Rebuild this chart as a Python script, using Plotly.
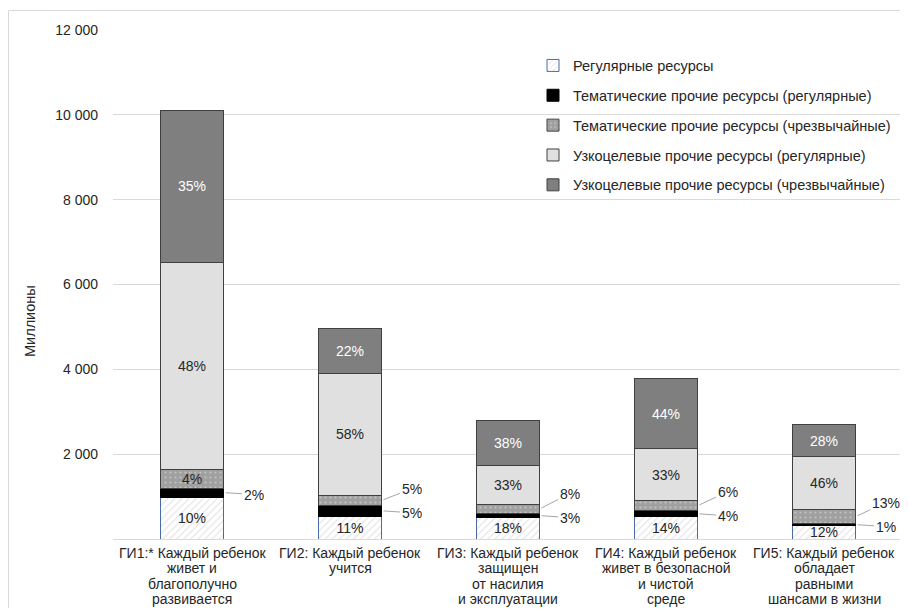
import plotly.graph_objects as go

# ---- data ----
categories = [
    "ГИ1:* Каждый ребенок<br>живет и<br>благополучно<br>развивается",
    "ГИ2: Каждый ребенок<br>учится",
    "ГИ3: Каждый ребенок<br>защищен<br>от насилия<br>и эксплуатации",
    "ГИ4: Каждый ребенок<br>живет в безопасной<br>и чистой<br>среде",
    "ГИ5: Каждый ребенок<br>обладает<br>равными<br>шансами в жизни",
]
series_names = [
    "Регулярные ресурсы",
    "Тематические прочие ресурсы (регулярные)",
    "Тематические прочие ресурсы (чрезвычайные)",
    "Узкоцелевые прочие ресурсы (регулярные)",
    "Узкоцелевые прочие ресурсы (чрезвычайные)",
]
regular = [990, 540, 505, 520, 325]
thematic_regular = [210, 250, 94, 150, 30]
thematic_emergency = [450, 240, 219, 230, 345]
targeted_regular = [4880, 2870, 920, 1230, 1235]
targeted_emergency = [3570, 1070, 1062, 1650, 755]
y_tick_values = [2000, 4000, 6000, 8000, 10000, 12000]
y_title = "Миллионы"

series = [regular, thematic_regular, thematic_emergency, targeted_regular, targeted_emergency]
totals = [sum(s[i] for s in series) for i in range(len(categories))]

def pct(v, t):
    return f"{int(v / t * 100 + 0.5)}%"

# ---- geometry (page has an 8px body margin; figure sized to fit the window) ----
W, H = 892, 600
ML, MR, MT, MB = 105, 0, 22, 69
plot_w = W - ML - MR
plot_h = H - MT - MB
y_max = 12000
px_per_unit = plot_h / y_max
cat_px = 158
x_range = [-0.5, -0.5 + plot_w / cat_px]
bar_width = 0.4
outside_threshold = 420  # thematic segments smaller than this get outside labels

FONT = "Liberation Sans, Arial, sans-serif"
TXT = "#262626"
BORDER = "#404040"
NUM_SIZE = 14
CAT_SIZE = 14
LEG_SIZE = 14.5
CAT_LINE = 15.5

styles = [
    dict(color="white", line=dict(color="#4a6aa8", width=1),
         pattern=dict(shape="/", fgcolor="#bfbfbf", bgcolor="white", size=5, solidity=0.2)),
    dict(color="black", line=dict(color="black", width=1)),
    dict(color="#a0a0a0", line=dict(color=BORDER, width=1),
         pattern=dict(shape=".", fgcolor="#e8e8e8", bgcolor="#a0a0a0", size=5, solidity=0.15)),
    dict(color="#e0e0e0", line=dict(color=BORDER, width=1)),
    dict(color="#7f7f7f", line=dict(color=BORDER, width=1)),
]
text_colors = [TXT, TXT, TXT, TXT, "white"]

fig = go.Figure()
for k, (name, vals) in enumerate(zip(series_names, series)):
    texts = []
    for i, v in enumerate(vals):
        if k in (1, 2) and v < outside_threshold:
            texts.append("")
        else:
            texts.append(pct(v, totals[i]))
    fig.add_trace(go.Bar(
        x=categories, y=vals, name=name, marker=styles[k],
        text=texts, textposition="inside", insidetextanchor="middle",
        textfont=dict(family=FONT, size=NUM_SIZE, color=text_colors[k]),
        width=bar_width, legendgroup=f"g{k}", hoverinfo="skip",
    ))

annotations = []
# category labels (tight line spacing), one text per line under each bar
for i, cat in enumerate(categories):
    for j, line in enumerate(cat.split("<br>")):
        annotations.append(dict(
            x=i, y=0, xref="x", yref="y", yanchor="middle", xanchor="center",
            yshift=-(13.5 + j * CAT_LINE), text=line, showarrow=False,
            font=dict(family=FONT, size=CAT_SIZE, color=TXT)))

# outside labels with leader lines
for i in range(len(categories)):
    base_black = regular[i]
    black_mid = base_black + thematic_regular[i] / 2
    dot_mid = base_black + thematic_regular[i] + thematic_emergency[i] / 2
    black_out = thematic_regular[i] < outside_threshold
    dot_out = thematic_emergency[i] < outside_threshold
    x_edge = i + bar_width / 2
    black_label_dy = 2
    if black_out:
        annotations.append(dict(
            x=x_edge, y=black_mid, xref="x", yref="y", text=pct(thematic_regular[i], totals[i]),
            showarrow=True, arrowhead=0, arrowwidth=1, arrowcolor="#a6a6a6",
            ax=30, ay=black_label_dy, standoff=2,
            font=dict(family=FONT, size=NUM_SIZE, color=TXT)))
    if dot_out:
        black_label_px = -black_mid * px_per_unit + black_label_dy
        dot_px = -dot_mid * px_per_unit
        target = min(dot_px - 11, black_label_px - 24)
        annotations.append(dict(
            x=x_edge, y=dot_mid, xref="x", yref="y", text=pct(thematic_emergency[i], totals[i]),
            showarrow=True, arrowhead=0, arrowwidth=1, arrowcolor="#a6a6a6",
            ax=30, ay=target - dot_px, standoff=2,
            font=dict(family=FONT, size=NUM_SIZE, color=TXT)))

annotations.append(dict(
    x=(22 - ML) / plot_w, y=1 - (313 - MT) / plot_h, xref="paper", yref="paper",
    xanchor="center", yanchor="middle",
    text=y_title, textangle=-90, showarrow=False,
    font=dict(family=FONT, size=LEG_SIZE, color=TXT)))

fig.update_layout(
    width=W, height=H,
    margin=dict(l=ML, r=MR, t=MT, b=MB, autoexpand=False),
    paper_bgcolor="white", plot_bgcolor="white",
    barmode="stack", bargap=1 - bar_width,
    separators=". ",
    font=dict(family=FONT, size=NUM_SIZE, color=TXT),
    uniformtext=dict(minsize=NUM_SIZE, mode="show"),
    showlegend=True,
    legend=dict(x=(525 - ML) / plot_w, y=1 - (41.5 - MT) / plot_h, xanchor="left", yanchor="top",
                bgcolor="rgba(0,0,0,0)", traceorder="grouped", tracegroupgap=8,
                font=dict(family=FONT, size=LEG_SIZE, color=TXT)),
    xaxis=dict(range=x_range, showgrid=False, showline=False, ticks="", automargin=False,
               showticklabels=False),
    yaxis=dict(range=[0, y_max], tickvals=y_tick_values, tickformat=",d", automargin=False,
               showgrid=True, gridcolor="#d9d9d9", gridwidth=1,
               zeroline=True, zerolinecolor="#d9d9d9", zerolinewidth=1,
               showline=False, ticks="", ticklabelstandoff=14,
               tickfont=dict(family=FONT, size=NUM_SIZE, color=TXT)),
    annotations=annotations,
    shapes=[dict(type="rect", xref="paper", yref="paper",
                 x0=(0.5 - ML) / plot_w, x1=(W + 20 - ML) / plot_w,
                 y0=1 + (MT - H - 20) / plot_h, y1=1 + (MT - 2.5) / plot_h,
                 line=dict(color="#d9d9d9", width=1), fillcolor="rgba(0,0,0,0)", layer="below")],
)

fig.write_html("out.html")
